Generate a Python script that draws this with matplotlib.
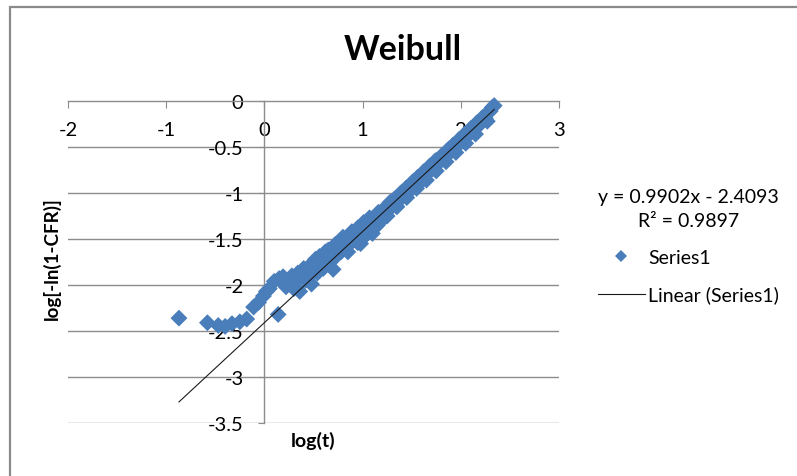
import matplotlib
matplotlib.use("Agg")
import matplotlib.pyplot as plt
from matplotlib.lines import Line2D
from matplotlib.patches import Rectangle
from matplotlib.ticker import FuncFormatter

plt.rcParams['font.family'] = ['Lato', 'DejaVu Sans']
plt.rcParams['axes.unicode_minus'] = False

# Weibull plot data: log(t) against log[-ln(1-CFR)]
log_t = [
    -0.87, -0.58, -0.47, -0.40, -0.33, -0.25, -0.18, -0.11, -0.06, -0.01,
    0.02, 0.05, 0.14, 0.10, 0.15, 0.19, 0.22, 0.26, 0.30, 0.33,
    0.36, 0.38, 0.42, 0.45, 0.48, 0.50, 0.52, 0.54, 0.57, 0.60,
    0.62, 0.63, 0.66, 0.69, 0.70, 0.72, 0.72, 0.75, 0.78, 0.80,
    0.81, 0.84, 0.87, 0.90, 0.93, 0.96, 0.98, 0.99, 1.02, 1.05,
    1.08, 1.10, 1.11, 1.14, 1.17, 1.20, 1.23, 1.26, 1.29, 1.32,
    1.35, 1.38, 1.41, 1.44, 1.47, 1.50, 1.53, 1.56, 1.59, 1.62,
    1.65, 1.68, 1.71, 1.74, 1.77, 1.80, 1.83, 1.86, 1.89, 1.92,
    1.95, 1.98, 2.01, 2.04, 2.07, 2.10, 2.13, 2.16, 2.19, 2.22,
    2.25, 2.28, 2.30, 2.32, 2.34,
    0.28, 0.34, 0.40, 0.44, 0.47, 0.53, 0.56, 0.59, 0.65, 0.68,
    0.74, 0.77, 0.83, 0.86, 0.89, 0.92, 0.95, 1.01, 1.04, 1.07,
    1.13, 1.16, 1.22, 1.28, 1.34, 1.40, 1.46, 1.52, 1.58, 1.64,
    1.70, 1.76, 1.82, 1.88, 1.94, 2.00, 2.06, 2.12, 2.18, 2.24,
    0.85, 0.95, 1.05, 1.15, 1.25, 1.35, 1.45, 1.55, 1.65, 1.75,
    1.85, 1.95, 2.05, 2.15, 2.27,
]
log_ln_cfr = [
    -2.36, -2.41, -2.44, -2.45, -2.42, -2.40, -2.37, -2.24, -2.19, -2.12,
    -2.07, -2.04, -2.32, -1.96, -1.93, -1.91, -2.02, -1.97, -2.04, -1.94,
    -2.07, -1.88, -1.95, -1.84, -1.99, -1.80, -1.72, -1.87, -1.75, -1.82,
    -1.64, -1.70, -1.76, -1.65, -1.83, -1.70, -1.56, -1.59, -1.64, -1.48,
    -1.53, -1.58, -1.48, -1.52, -1.43, -1.46, -1.55, -1.38, -1.37, -1.40,
    -1.31, -1.44, -1.34, -1.25, -1.28, -1.19, -1.22, -1.13, -1.16, -1.07,
    -1.10, -1.01, -1.04, -0.95, -0.98, -0.89, -0.92, -0.83, -0.86, -0.77,
    -0.80, -0.71, -0.74, -0.65, -0.68, -0.60, -0.62, -0.54, -0.56, -0.48,
    -0.50, -0.42, -0.44, -0.36, -0.38, -0.30, -0.32, -0.24, -0.26, -0.18,
    -0.19, -0.12, -0.11, -0.07, -0.05,
    -1.90, -1.87, -1.82, -1.92, -1.78, -1.78, -1.69, -1.74, -1.62, -1.72,
    -1.66, -1.52, -1.50, -1.56, -1.42, -1.50, -1.38, -1.32, -1.45, -1.27,
    -1.37, -1.21, -1.27, -1.10, -1.14, -0.99, -1.00, -0.87, -0.89, -0.78,
    -0.73, -0.64, -0.62, -0.52, -0.47, -0.43, -0.35, -0.30, -0.23, -0.19,
    -1.64, -1.54, -1.44, -1.35, -1.25, -1.15, -1.05, -0.95, -0.86, -0.76,
    -0.66, -0.56, -0.46, -0.36, -0.22,
]

# Linear trendline coefficients
slope = 0.9902
intercept = -2.4093
r_squared = 0.9897

x_ticks = [-2, -1, 0, 1, 2, 3]
y_ticks = [0, -0.5, -1, -1.5, -2, -2.5, -3, -3.5]

W, H = 797, 477
fig = plt.figure(figsize=(W / 100, H / 100), dpi=100)
fig.patch.set_facecolor('white')

ax = fig.add_axes([68 / W, 1 - 424 / H, (559 - 68) / W, (424 - 102) / H])
ax.set_xlim(-2, 3)
ax.set_ylim(-3.5, 0)

marker_color = '#4a7ebb'
ax.scatter(log_t, log_ln_cfr, marker='D', s=74, color=marker_color,
           edgecolors='none', zorder=3, clip_on=False)

x_lo, x_hi = min(log_t), max(log_t)
ax.plot([x_lo, x_hi], [slope * x_lo + intercept, slope * x_hi + intercept],
        color='#1a1a1a', lw=0.8, zorder=4)

# Axis arrangement: x axis along y=0 (top), y axis along x=0
grid_color = '#8c8c8c'
for s in ('bottom', 'right'):
    ax.spines[s].set_visible(False)
ax.spines['top'].set_color(grid_color)
ax.spines['left'].set_color(grid_color)
ax.spines['left'].set_position(('data', 0))
ax.spines['top'].set_linewidth(1)
ax.spines['left'].set_linewidth(1)

ax.set_xticks(x_ticks)
ax.set_yticks(y_ticks)
fmt = FuncFormatter(lambda v, p: f'{v:g}')
ax.xaxis.set_major_formatter(fmt)
ax.yaxis.set_major_formatter(fmt)
ax.tick_params(axis='x', top=True, bottom=False, labeltop=True, labelbottom=False,
               direction='in', length=5, color=grid_color, pad=-27, labelsize=14.5)
ax.tick_params(axis='y', left=True, right=False, direction='out', length=4,
               color=grid_color, pad=11, labelsize=14.5)

for yv in y_ticks[1:]:
    ax.axhline(yv, color=grid_color, lw=1, zorder=1)

ax.set_xlabel('log(t)', fontsize=14, fontweight='bold')
ax.xaxis.set_label_position('bottom')
ax.xaxis.set_label_coords(0.5, -0.025)
ax.xaxis.label.set_va('top')
ax.set_ylabel('log[-ln(1-CFR)]', fontsize=13.5, fontweight='bold')
ax.yaxis.set_label_coords(-0.033, 0.5 + 4 / 322)
ax.yaxis.label.set_va('center')

fig.text(403 / W, 1 - 50 / H, 'Weibull', ha='center', va='center',
         fontsize=24.5, fontweight='bold')

fig.text(688 / W, 1 - 198 / H, f'y = {slope}x - {abs(intercept)}',
         ha='center', va='center', fontsize=14)
fig.text(689 / W, 1 - 222 / H, f'R² = {r_squared}',
         ha='center', va='center', fontsize=14)

handles = [
    Line2D([], [], marker='D', ls='none', color=marker_color, markersize=6.5,
           markeredgewidth=0),
    Line2D([], [], color='#1a1a1a', lw=0.8),
]
fig.legend(handles, ['Series1', 'Linear (Series1)'], loc='upper left',
           bbox_to_anchor=(598 / W, 1 - 250 / H), bbox_transform=fig.transFigure,
           frameon=False, fontsize=14, handlelength=2.4, handletextpad=0.18,
           borderpad=0, borderaxespad=0, labelspacing=1.0)

# Chart frame
fig.add_artist(Rectangle((10 / W, -0.1), 1.2, 1 - 8 / H + 0.1,
                         transform=fig.transFigure, fill=False,
                         ec='#8a8a8a', lw=1.6))

fig.savefig('out.png', dpi=100)
